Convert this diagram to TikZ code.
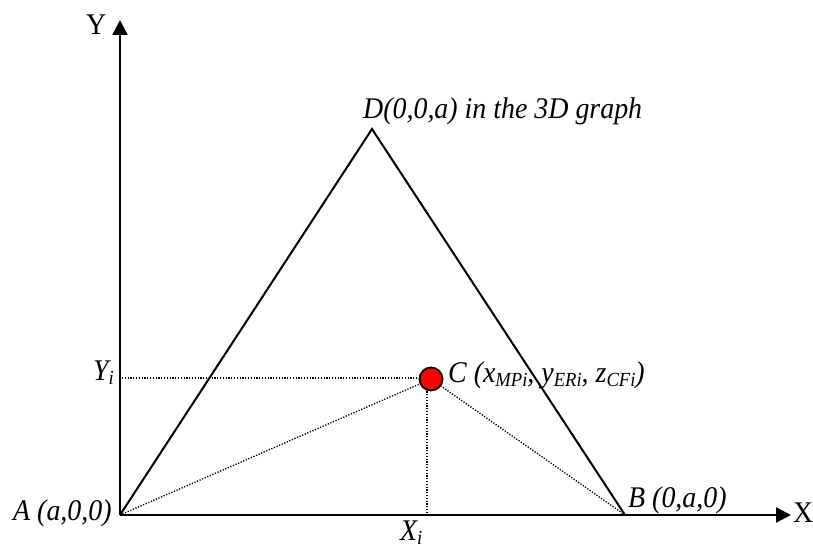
\documentclass[tikz,border=0pt]{standalone}
\usepackage{fontspec}
\setmainfont[FakeStretch=0.93]{Liberation Serif}
\usetikzlibrary{arrows.meta}
\newcommand\mysub[1]{\raisebox{-0.15em}{\fontsize{20}{22}\selectfont #1}}
\begin{document}
\begin{tikzpicture}[x=1pt,y=-1pt,
  every node/.style={inner sep=0pt, font=\fontsize{30}{34}\selectfont},
  lbl/.style={anchor=base west, font=\fontsize{30}{34}\selectfont\itshape},
  axis/.style={line width=2.4pt, -{Triangle[length=15pt,width=15pt]}},
  edge/.style={line width=2pt},
  dots/.style={line width=1.4pt, dash pattern=on 1.2pt off 1.6pt}]
\useasboundingbox (0,0) rectangle (813,548);
\coordinate (A) at (120,515);
\coordinate (B) at (625,515);
\coordinate (D) at (372,129);
\coordinate (Xend) at (791,515);
\coordinate (Yend) at (120,20);
\coordinate (Yi) at (122,378);
\coordinate (Xi) at (427,515);
\draw[axis] (A) -- (Xend);
\draw[axis] (A) -- (Yend);
\draw[edge, line join=miter] (A) -- (D) -- (B);
\node[circle, draw, fill=red, minimum size=23pt, line width=1.8pt] (C) at (431,379) {};
\draw[dots] (A) -- (C);
\draw[dots] (B) -- (C);
\draw[dots] (Yi) -- (C.west |- Yi);
\draw[dots] (Xi |- C.south) -- (Xi);
\node[anchor=base west] (ylab) at (86,35) {Y};
\node[anchor=base west] (xlab) at (793,522) {X};
\node[lbl] (dlab) at (363,119) {D(0,0,a) in the 3D graph};
\node[lbl] (alab) at (13,520) {A (a,0,0)};
\node[lbl] (blab) at (628,507) {B (0,a,0)};
\node[lbl] (yilab) at (93,380) {Y\mysub{i}};
\node[lbl] (xilab) at (400,540) {X\mysub{i}};
\node[lbl] (clab) at (448,382) {C (x\mysub{MPi}, y\mysub{ERi}, z\mysub{CFi})};
\end{tikzpicture}
\end{document}
